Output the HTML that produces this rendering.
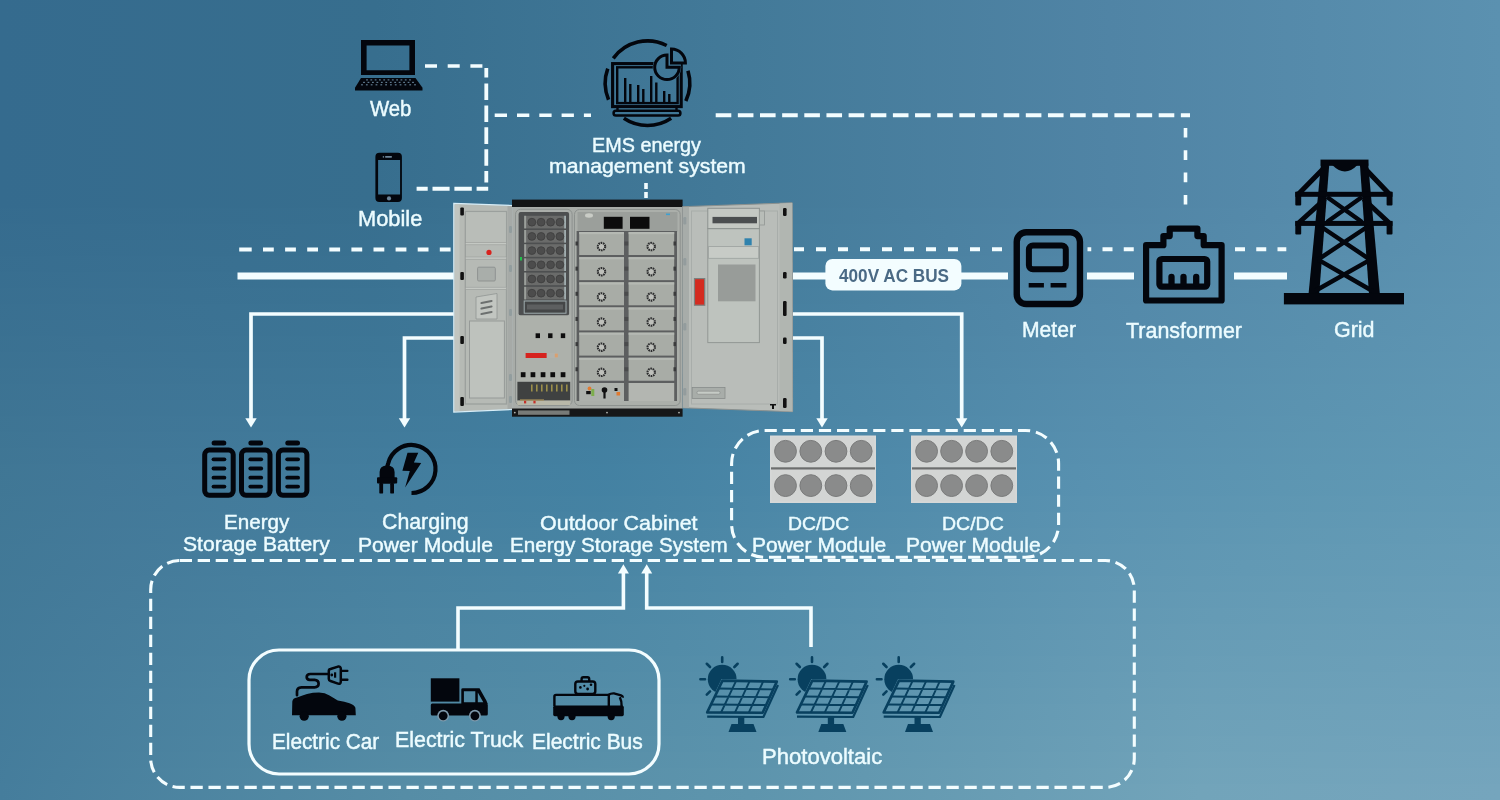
<!DOCTYPE html>
<html><head><meta charset="utf-8"><style>
html,body{margin:0;padding:0;width:1500px;height:800px;overflow:hidden}
body{position:relative;font-family:"Liberation Sans",sans-serif;background:#457d9c}
.bg{position:absolute;left:0;top:0;width:1500px;height:800px}
svg{position:absolute;left:0;top:0}
.t{position:absolute;color:#ecfcff;white-space:nowrap;transform-origin:0 0;-webkit-text-stroke:0.45px #ecfcff}
.bus{position:absolute;left:838.5px;top:266px;font-weight:bold;font-size:19.2px;color:#4a6a85;line-height:19.2px;white-space:nowrap;transform-origin:0 0;transform:scaleX(0.895)}
</style></head>
<body>
<div style="position:absolute;left:0;top:0px;width:1500px;height:16px;background:linear-gradient(to right,rgb(53.0,107.0,142.0) 0%,rgb(53.6,107.8,142.0) 7%,rgb(55.0,110.0,142.0) 25%,rgb(56.0,111.0,142.9) 27%,rgb(62.2,117.2,148.6) 40%,rgb(67.0,122.0,153.0) 50%,rgb(79.5,131.6,164.5) 73%,rgb(80.0,132.0,165.0) 74%,rgb(82.5,135.0,167.5) 80%,rgb(85.5,138.5,170.5) 87%,rgb(91.0,145.0,176.0) 100%)"></div><div style="position:absolute;left:0;top:16px;width:1500px;height:16px;background:linear-gradient(to right,rgb(53.0,107.0,142.0) 0%,rgb(53.6,107.8,142.0) 7%,rgb(55.0,110.0,142.0) 25%,rgb(56.0,111.0,142.9) 27%,rgb(62.2,117.2,148.6) 40%,rgb(67.0,122.0,153.0) 50%,rgb(79.5,131.6,164.5) 73%,rgb(80.0,132.0,165.0) 74%,rgb(82.5,135.0,167.5) 80%,rgb(85.5,138.5,170.5) 87%,rgb(91.0,145.0,176.0) 100%)"></div><div style="position:absolute;left:0;top:32px;width:1500px;height:16px;background:linear-gradient(to right,rgb(53.0,107.0,142.0) 0%,rgb(53.6,107.8,142.0) 7%,rgb(55.0,110.0,142.0) 25%,rgb(56.0,111.0,142.9) 27%,rgb(62.2,117.2,148.6) 40%,rgb(67.0,122.0,153.0) 50%,rgb(79.5,131.6,164.5) 73%,rgb(80.0,132.0,165.0) 74%,rgb(82.5,135.0,167.5) 80%,rgb(85.5,138.5,170.5) 87%,rgb(91.0,145.0,176.0) 100%)"></div><div style="position:absolute;left:0;top:48px;width:1500px;height:16px;background:linear-gradient(to right,rgb(53.0,107.0,142.0) 0%,rgb(53.6,107.8,142.0) 7%,rgb(55.0,110.0,142.0) 25%,rgb(56.0,111.0,142.9) 27%,rgb(62.2,117.2,148.6) 40%,rgb(67.0,122.0,153.0) 50%,rgb(79.5,131.6,164.5) 73%,rgb(80.0,132.0,165.0) 74%,rgb(82.5,135.0,167.5) 80%,rgb(85.5,138.5,170.5) 87%,rgb(91.0,145.0,176.0) 100%)"></div><div style="position:absolute;left:0;top:64px;width:1500px;height:16px;background:linear-gradient(to right,rgb(53.0,107.0,142.0) 0%,rgb(53.6,107.8,142.0) 7%,rgb(55.0,110.0,142.0) 25%,rgb(56.0,111.0,142.9) 27%,rgb(62.2,117.2,148.6) 40%,rgb(67.0,122.0,153.0) 50%,rgb(79.5,131.6,164.5) 73%,rgb(80.0,132.0,165.0) 74%,rgb(82.5,135.0,167.5) 80%,rgb(85.5,138.5,170.5) 87%,rgb(91.0,145.0,176.0) 100%)"></div><div style="position:absolute;left:0;top:80px;width:1500px;height:16px;background:linear-gradient(to right,rgb(53.0,107.0,142.0) 0%,rgb(53.6,107.8,142.0) 7%,rgb(55.0,110.0,142.0) 25%,rgb(56.0,111.0,142.9) 27%,rgb(62.2,117.2,148.6) 40%,rgb(67.0,122.0,153.0) 50%,rgb(79.5,131.6,164.5) 73%,rgb(80.0,132.0,165.0) 74%,rgb(82.5,135.0,167.5) 80%,rgb(85.5,138.5,170.5) 87%,rgb(91.0,145.0,176.0) 100%)"></div><div style="position:absolute;left:0;top:96px;width:1500px;height:16px;background:linear-gradient(to right,rgb(53.0,107.0,142.0) 0%,rgb(53.6,107.8,142.0) 7%,rgb(55.0,110.0,142.0) 25%,rgb(56.0,111.0,142.9) 27%,rgb(62.2,117.2,148.6) 40%,rgb(67.0,122.0,153.0) 50%,rgb(79.5,131.6,164.5) 73%,rgb(80.0,132.0,165.0) 74%,rgb(82.5,135.0,167.5) 80%,rgb(85.5,138.5,170.5) 87%,rgb(91.0,145.0,176.0) 100%)"></div><div style="position:absolute;left:0;top:112px;width:1500px;height:16px;background:linear-gradient(to right,rgb(53.0,107.0,142.0) 0%,rgb(53.6,107.8,142.0) 7%,rgb(55.0,110.0,142.0) 25%,rgb(56.0,111.0,142.9) 27%,rgb(62.2,117.2,148.6) 40%,rgb(67.0,122.0,153.0) 50%,rgb(79.5,131.6,164.5) 73%,rgb(80.0,132.0,165.0) 74%,rgb(82.5,135.0,167.5) 80%,rgb(85.5,138.5,170.5) 87%,rgb(91.0,145.0,176.0) 100%)"></div><div style="position:absolute;left:0;top:128px;width:1500px;height:16px;background:linear-gradient(to right,rgb(53.0,107.0,142.0) 0%,rgb(53.6,107.8,142.0) 7%,rgb(55.0,110.0,142.0) 25%,rgb(56.0,111.0,142.9) 27%,rgb(62.2,117.2,148.6) 40%,rgb(67.0,122.0,153.0) 50%,rgb(79.5,131.6,164.5) 73%,rgb(80.0,132.0,165.0) 74%,rgb(82.5,135.0,167.5) 80%,rgb(85.5,138.5,170.5) 87%,rgb(91.0,145.0,176.0) 100%)"></div><div style="position:absolute;left:0;top:144px;width:1500px;height:16px;background:linear-gradient(to right,rgb(53.0,107.0,142.0) 0%,rgb(53.6,107.8,142.0) 7%,rgb(55.0,110.0,142.0) 25%,rgb(56.0,111.0,142.9) 27%,rgb(62.2,117.2,148.6) 40%,rgb(67.0,122.0,153.0) 50%,rgb(79.5,131.6,164.5) 73%,rgb(80.0,132.0,165.0) 74%,rgb(82.5,135.0,167.5) 80%,rgb(85.5,138.5,170.5) 87%,rgb(91.0,145.0,176.0) 100%)"></div><div style="position:absolute;left:0;top:160px;width:1500px;height:16px;background:linear-gradient(to right,rgb(53.0,107.0,142.0) 0%,rgb(53.6,107.8,142.0) 7%,rgb(55.0,110.0,142.0) 25%,rgb(56.0,111.0,142.9) 27%,rgb(62.2,117.2,148.6) 40%,rgb(67.0,122.0,153.0) 50%,rgb(79.5,131.6,164.5) 73%,rgb(80.0,132.0,165.0) 74%,rgb(82.5,135.0,167.5) 80%,rgb(85.5,138.5,170.5) 87%,rgb(91.0,145.0,176.0) 100%)"></div><div style="position:absolute;left:0;top:176px;width:1500px;height:16px;background:linear-gradient(to right,rgb(53.0,107.0,142.0) 0%,rgb(53.6,107.8,142.0) 7%,rgb(55.0,110.0,142.0) 25%,rgb(56.0,111.0,142.9) 27%,rgb(62.2,117.2,148.6) 40%,rgb(67.0,122.0,153.0) 50%,rgb(79.5,131.6,164.5) 73%,rgb(80.0,132.0,165.0) 74%,rgb(82.5,135.0,167.5) 80%,rgb(85.5,138.5,170.5) 87%,rgb(91.0,145.0,176.0) 100%)"></div><div style="position:absolute;left:0;top:192px;width:1500px;height:16px;background:linear-gradient(to right,rgb(53.0,107.0,142.0) 0%,rgb(53.6,107.8,142.0) 7%,rgb(55.0,110.0,142.0) 25%,rgb(56.0,111.0,142.9) 27%,rgb(62.2,117.2,148.6) 40%,rgb(67.0,122.0,153.0) 50%,rgb(79.5,131.6,164.5) 73%,rgb(80.0,132.0,165.0) 74%,rgb(82.5,135.0,167.5) 80%,rgb(85.5,138.5,170.5) 87%,rgb(91.0,145.0,176.0) 100%)"></div><div style="position:absolute;left:0;top:208px;width:1500px;height:16px;background:linear-gradient(to right,rgb(53.6,107.7,142.4) 0%,rgb(54.3,108.5,142.6) 7%,rgb(55.7,110.9,142.9) 25%,rgb(56.6,111.8,143.7) 27%,rgb(62.5,117.9,149.4) 40%,rgb(67.4,122.7,153.8) 50%,rgb(79.9,132.3,165.2) 73%,rgb(80.5,132.8,165.6) 74%,rgb(83.0,135.7,168.1) 80%,rgb(85.9,139.2,170.9) 87%,rgb(91.3,145.5,176.3) 100%)"></div><div style="position:absolute;left:0;top:224px;width:1500px;height:16px;background:linear-gradient(to right,rgb(54.3,108.4,142.8) 0%,rgb(55.0,109.2,143.1) 7%,rgb(56.3,111.7,143.8) 25%,rgb(57.2,112.6,144.6) 27%,rgb(62.7,118.5,150.1) 40%,rgb(67.7,123.4,154.5) 50%,rgb(80.4,133.1,165.8) 73%,rgb(81.0,133.5,166.3) 74%,rgb(83.4,136.4,168.6) 80%,rgb(86.4,139.8,171.4) 87%,rgb(91.7,145.9,176.6) 100%)"></div><div style="position:absolute;left:0;top:240px;width:1500px;height:16px;background:linear-gradient(to right,rgb(54.9,109.1,143.2) 0%,rgb(55.7,109.9,143.7) 7%,rgb(57.0,112.6,144.6) 25%,rgb(57.8,113.4,145.5) 27%,rgb(63.0,119.2,150.9) 40%,rgb(68.1,124.0,155.3) 50%,rgb(80.9,133.9,166.5) 73%,rgb(81.4,134.3,166.9) 74%,rgb(83.9,137.1,169.2) 80%,rgb(86.8,140.5,171.8) 87%,rgb(92.0,146.4,176.9) 100%)"></div><div style="position:absolute;left:0;top:256px;width:1500px;height:16px;background:linear-gradient(to right,rgb(55.5,109.7,143.6) 0%,rgb(56.4,110.6,144.3) 7%,rgb(57.6,113.4,145.5) 25%,rgb(58.4,114.3,146.3) 27%,rgb(63.3,119.9,151.7) 40%,rgb(68.5,124.7,156.0) 50%,rgb(81.4,134.6,167.1) 73%,rgb(81.9,135.1,167.5) 74%,rgb(84.4,137.9,169.7) 80%,rgb(87.2,141.1,172.2) 87%,rgb(92.4,146.8,177.1) 100%)"></div><div style="position:absolute;left:0;top:272px;width:1500px;height:16px;background:linear-gradient(to right,rgb(56.1,110.4,144.0) 0%,rgb(57.1,111.3,144.9) 7%,rgb(58.3,114.3,146.4) 25%,rgb(59.0,115.1,147.2) 27%,rgb(63.6,120.6,152.4) 40%,rgb(68.8,125.4,156.8) 50%,rgb(81.9,135.4,167.8) 73%,rgb(82.4,135.8,168.2) 74%,rgb(84.8,138.6,170.2) 80%,rgb(87.6,141.8,172.6) 87%,rgb(92.7,147.3,177.4) 100%)"></div><div style="position:absolute;left:0;top:288px;width:1500px;height:16px;background:linear-gradient(to right,rgb(56.8,111.1,144.4) 0%,rgb(57.8,112.0,145.4) 7%,rgb(59.0,115.1,147.3) 25%,rgb(59.6,115.9,148.1) 27%,rgb(63.8,121.2,153.2) 40%,rgb(69.2,126.1,157.5) 50%,rgb(82.4,136.2,168.4) 73%,rgb(82.9,136.6,168.8) 74%,rgb(85.3,139.3,170.8) 80%,rgb(88.1,142.4,173.1) 87%,rgb(93.1,147.7,177.7) 100%)"></div><div style="position:absolute;left:0;top:304px;width:1500px;height:16px;background:linear-gradient(to right,rgb(57.4,111.8,144.8) 0%,rgb(58.5,112.7,146.0) 7%,rgb(59.6,116.0,148.2) 25%,rgb(60.2,116.8,149.0) 27%,rgb(64.1,121.9,154.0) 40%,rgb(69.5,126.7,158.3) 50%,rgb(82.9,136.9,169.1) 73%,rgb(83.3,137.3,169.5) 74%,rgb(85.7,140.0,171.3) 80%,rgb(88.5,143.1,173.5) 87%,rgb(93.4,148.2,178.0) 100%)"></div><div style="position:absolute;left:0;top:320px;width:1500px;height:16px;background:linear-gradient(to right,rgb(58.0,112.5,145.2) 0%,rgb(59.2,113.4,146.6) 7%,rgb(60.3,116.8,149.1) 25%,rgb(60.8,117.6,149.8) 27%,rgb(64.4,122.6,154.7) 40%,rgb(69.9,127.4,159.1) 50%,rgb(83.4,137.7,169.8) 73%,rgb(83.8,138.1,170.1) 74%,rgb(86.2,140.7,171.9) 80%,rgb(88.9,143.8,173.9) 87%,rgb(93.7,148.7,178.3) 100%)"></div><div style="position:absolute;left:0;top:336px;width:1500px;height:16px;background:linear-gradient(to right,rgb(58.7,113.2,145.6) 0%,rgb(60.0,114.1,147.1) 7%,rgb(60.9,117.7,149.9) 25%,rgb(61.4,118.4,150.7) 27%,rgb(64.7,123.3,155.5) 40%,rgb(70.3,128.1,159.8) 50%,rgb(83.9,138.5,170.4) 73%,rgb(84.3,138.9,170.7) 74%,rgb(86.6,141.4,172.4) 80%,rgb(89.4,144.4,174.4) 87%,rgb(94.1,149.1,178.6) 100%)"></div><div style="position:absolute;left:0;top:352px;width:1500px;height:16px;background:linear-gradient(to right,rgb(59.3,113.9,146.0) 0%,rgb(60.7,114.8,147.7) 7%,rgb(61.6,118.5,150.8) 25%,rgb(62.0,119.2,151.6) 27%,rgb(64.9,123.9,156.3) 40%,rgb(70.6,128.8,160.6) 50%,rgb(84.3,139.2,171.1) 73%,rgb(84.8,139.6,171.4) 74%,rgb(87.1,142.1,172.9) 80%,rgb(89.8,145.1,174.8) 87%,rgb(94.4,149.6,178.9) 100%)"></div><div style="position:absolute;left:0;top:368px;width:1500px;height:16px;background:linear-gradient(to right,rgb(59.9,114.5,146.4) 0%,rgb(61.4,115.5,148.3) 7%,rgb(62.3,119.4,151.7) 25%,rgb(62.7,120.1,152.4) 27%,rgb(65.2,124.6,157.0) 40%,rgb(71.0,129.4,161.3) 50%,rgb(84.8,140.0,171.7) 73%,rgb(85.3,140.4,172.0) 74%,rgb(87.5,142.9,173.5) 80%,rgb(90.2,145.7,175.2) 87%,rgb(94.8,150.0,179.1) 100%)"></div><div style="position:absolute;left:0;top:384px;width:1500px;height:16px;background:linear-gradient(to right,rgb(60.5,115.2,146.8) 0%,rgb(62.1,116.2,148.9) 7%,rgb(62.9,120.2,152.6) 25%,rgb(63.3,120.9,153.3) 27%,rgb(65.5,125.3,157.8) 40%,rgb(71.4,130.1,162.1) 50%,rgb(85.3,140.8,172.4) 73%,rgb(85.7,141.2,172.6) 74%,rgb(88.0,143.6,174.0) 80%,rgb(90.6,146.4,175.6) 87%,rgb(95.1,150.5,179.4) 100%)"></div><div style="position:absolute;left:0;top:400px;width:1500px;height:16px;background:linear-gradient(to right,rgb(61.2,115.9,147.2) 0%,rgb(62.8,116.9,149.4) 7%,rgb(63.6,121.1,153.5) 25%,rgb(63.9,121.7,154.2) 27%,rgb(65.8,126.0,158.6) 40%,rgb(71.7,130.8,162.8) 50%,rgb(85.8,141.6,173.0) 73%,rgb(86.2,141.9,173.3) 74%,rgb(88.5,144.3,174.6) 80%,rgb(91.1,147.0,176.1) 87%,rgb(95.5,150.9,179.7) 100%)"></div><div style="position:absolute;left:0;top:416px;width:1500px;height:16px;background:linear-gradient(to right,rgb(61.8,116.6,147.6) 0%,rgb(63.5,117.6,150.0) 7%,rgb(64.2,121.9,154.4) 25%,rgb(64.5,122.6,155.0) 27%,rgb(66.0,126.6,159.3) 40%,rgb(72.1,131.5,163.6) 50%,rgb(86.3,142.3,173.7) 73%,rgb(86.7,142.7,173.9) 74%,rgb(88.9,145.0,175.1) 80%,rgb(91.5,147.7,176.5) 87%,rgb(95.8,151.4,180.0) 100%)"></div><div style="position:absolute;left:0;top:432px;width:1500px;height:16px;background:linear-gradient(to right,rgb(62.4,117.3,148.0) 0%,rgb(64.2,118.3,150.6) 7%,rgb(64.9,122.8,155.2) 25%,rgb(65.1,123.4,155.9) 27%,rgb(66.3,127.3,160.1) 40%,rgb(72.5,132.2,164.4) 50%,rgb(86.8,143.1,174.4) 73%,rgb(87.2,143.4,174.6) 74%,rgb(89.4,145.7,175.6) 80%,rgb(91.9,148.4,176.9) 87%,rgb(96.1,151.9,180.3) 100%)"></div><div style="position:absolute;left:0;top:448px;width:1500px;height:16px;background:linear-gradient(to right,rgb(63.1,118.0,148.4) 0%,rgb(64.9,119.0,151.1) 7%,rgb(65.6,123.6,156.1) 25%,rgb(65.7,124.2,156.8) 27%,rgb(66.6,128.0,160.9) 40%,rgb(72.8,132.8,165.1) 50%,rgb(87.3,143.8,175.0) 73%,rgb(87.6,144.2,175.2) 74%,rgb(89.8,146.4,176.2) 80%,rgb(92.4,149.0,177.4) 87%,rgb(96.5,152.3,180.6) 100%)"></div><div style="position:absolute;left:0;top:464px;width:1500px;height:16px;background:linear-gradient(to right,rgb(63.7,118.7,148.8) 0%,rgb(65.6,119.7,151.7) 7%,rgb(66.2,124.5,157.0) 25%,rgb(66.3,125.0,157.6) 27%,rgb(66.9,128.7,161.6) 40%,rgb(73.2,133.5,165.9) 50%,rgb(87.8,144.6,175.7) 73%,rgb(88.1,145.0,175.8) 74%,rgb(90.3,147.1,176.7) 80%,rgb(92.8,149.7,177.8) 87%,rgb(96.8,152.8,180.9) 100%)"></div><div style="position:absolute;left:0;top:480px;width:1500px;height:16px;background:linear-gradient(to right,rgb(64.1,119.2,149.2) 0%,rgb(66.2,120.2,152.2) 7%,rgb(67.0,125.3,157.7) 25%,rgb(67.1,125.9,158.3) 27%,rgb(67.6,129.4,162.2) 40%,rgb(73.9,134.2,166.4) 50%,rgb(88.5,145.4,176.2) 73%,rgb(88.9,145.8,176.3) 74%,rgb(91.1,147.9,177.2) 80%,rgb(93.6,150.4,178.2) 87%,rgb(97.5,153.3,181.2) 100%)"></div><div style="position:absolute;left:0;top:496px;width:1500px;height:16px;background:linear-gradient(to right,rgb(64.4,119.5,149.5) 0%,rgb(66.6,120.7,152.5) 7%,rgb(67.9,126.1,158.1) 25%,rgb(68.1,126.7,158.7) 27%,rgb(68.8,130.3,162.6) 40%,rgb(75.0,135.0,166.8) 50%,rgb(89.6,146.2,176.5) 73%,rgb(90.0,146.6,176.7) 74%,rgb(92.3,148.8,177.7) 80%,rgb(94.7,151.1,178.7) 87%,rgb(98.5,153.9,181.6) 100%)"></div><div style="position:absolute;left:0;top:512px;width:1500px;height:16px;background:linear-gradient(to right,rgb(64.6,119.8,149.9) 0%,rgb(66.9,121.2,152.8) 7%,rgb(68.9,126.8,158.5) 25%,rgb(69.1,127.4,159.1) 27%,rgb(70.0,131.1,163.0) 40%,rgb(76.0,135.8,167.1) 50%,rgb(90.7,147.0,176.9) 73%,rgb(91.1,147.4,177.1) 74%,rgb(93.5,149.6,178.2) 80%,rgb(95.8,151.8,179.2) 87%,rgb(99.6,154.5,182.0) 100%)"></div><div style="position:absolute;left:0;top:528px;width:1500px;height:16px;background:linear-gradient(to right,rgb(64.9,120.1,150.3) 0%,rgb(67.3,121.6,153.2) 7%,rgb(69.8,127.6,158.9) 25%,rgb(70.1,128.2,159.5) 27%,rgb(71.2,132.0,163.4) 40%,rgb(77.1,136.6,167.5) 50%,rgb(91.8,147.8,177.3) 73%,rgb(92.2,148.2,177.4) 74%,rgb(94.7,150.5,178.6) 80%,rgb(97.0,152.6,179.6) 87%,rgb(100.6,155.2,182.4) 100%)"></div><div style="position:absolute;left:0;top:544px;width:1500px;height:16px;background:linear-gradient(to right,rgb(65.2,120.4,150.6) 0%,rgb(67.7,122.1,153.5) 7%,rgb(70.7,128.3,159.3) 25%,rgb(71.1,129.0,159.9) 27%,rgb(72.4,132.8,163.8) 40%,rgb(78.1,137.3,167.8) 50%,rgb(92.9,148.6,177.6) 73%,rgb(93.4,149.0,177.8) 74%,rgb(95.9,151.3,179.1) 80%,rgb(98.1,153.3,180.1) 87%,rgb(101.6,155.8,182.8) 100%)"></div><div style="position:absolute;left:0;top:560px;width:1500px;height:16px;background:linear-gradient(to right,rgb(65.4,120.7,151.0) 0%,rgb(68.1,122.6,153.9) 7%,rgb(71.7,129.1,159.7) 25%,rgb(72.1,129.8,160.3) 27%,rgb(73.6,133.7,164.2) 40%,rgb(79.2,138.1,168.1) 50%,rgb(94.0,149.4,178.0) 73%,rgb(94.5,149.8,178.2) 74%,rgb(97.1,152.2,179.5) 80%,rgb(99.2,154.0,180.6) 87%,rgb(102.6,156.4,183.3) 100%)"></div><div style="position:absolute;left:0;top:576px;width:1500px;height:16px;background:linear-gradient(to right,rgb(65.7,121.0,151.3) 0%,rgb(68.5,123.0,154.2) 7%,rgb(72.6,129.9,160.1) 25%,rgb(73.1,130.6,160.7) 27%,rgb(74.8,134.5,164.7) 40%,rgb(80.2,138.9,168.5) 50%,rgb(95.1,150.2,178.3) 73%,rgb(95.6,150.6,178.6) 74%,rgb(98.3,153.0,180.0) 80%,rgb(100.4,154.8,181.0) 87%,rgb(103.7,157.0,183.7) 100%)"></div><div style="position:absolute;left:0;top:592px;width:1500px;height:16px;background:linear-gradient(to right,rgb(65.9,121.3,151.7) 0%,rgb(68.8,123.5,154.5) 7%,rgb(73.5,130.6,160.5) 25%,rgb(74.1,131.4,161.1) 27%,rgb(76.0,135.4,165.1) 40%,rgb(81.3,139.7,168.8) 50%,rgb(96.2,151.0,178.7) 73%,rgb(96.7,151.4,178.9) 74%,rgb(99.5,153.8,180.5) 80%,rgb(101.5,155.5,181.5) 87%,rgb(104.7,157.6,184.1) 100%)"></div><div style="position:absolute;left:0;top:608px;width:1500px;height:16px;background:linear-gradient(to right,rgb(66.2,121.6,152.1) 0%,rgb(69.2,124.0,154.9) 7%,rgb(74.5,131.4,160.9) 25%,rgb(75.1,132.2,161.5) 27%,rgb(77.3,136.2,165.5) 40%,rgb(82.4,140.5,169.2) 50%,rgb(97.3,151.8,179.0) 73%,rgb(97.8,152.2,179.3) 74%,rgb(100.7,154.7,180.9) 80%,rgb(102.6,156.3,181.9) 87%,rgb(105.7,158.2,184.5) 100%)"></div><div style="position:absolute;left:0;top:624px;width:1500px;height:16px;background:linear-gradient(to right,rgb(66.4,121.9,152.4) 0%,rgb(69.6,124.5,155.2) 7%,rgb(75.4,132.2,161.3) 25%,rgb(76.1,133.0,161.9) 27%,rgb(78.5,137.0,165.9) 40%,rgb(83.4,141.2,169.5) 50%,rgb(98.4,152.6,179.4) 73%,rgb(98.9,153.0,179.7) 74%,rgb(101.9,155.5,181.4) 80%,rgb(103.7,157.0,182.4) 87%,rgb(106.7,158.8,184.9) 100%)"></div><div style="position:absolute;left:0;top:640px;width:1500px;height:16px;background:linear-gradient(to right,rgb(66.7,122.2,152.8) 0%,rgb(70.0,124.9,155.5) 7%,rgb(76.3,132.9,161.7) 25%,rgb(77.0,133.8,162.3) 27%,rgb(79.7,137.9,166.3) 40%,rgb(84.5,142.0,169.9) 50%,rgb(99.5,153.3,179.8) 73%,rgb(100.0,153.8,180.1) 74%,rgb(103.2,156.4,181.8) 80%,rgb(104.9,157.7,182.9) 87%,rgb(107.8,159.5,185.3) 100%)"></div><div style="position:absolute;left:0;top:656px;width:1500px;height:16px;background:linear-gradient(to right,rgb(66.9,122.5,153.1) 0%,rgb(70.4,125.4,155.9) 7%,rgb(77.3,133.7,162.1) 25%,rgb(78.0,134.6,162.7) 27%,rgb(80.9,138.7,166.7) 40%,rgb(85.5,142.8,170.2) 50%,rgb(100.6,154.1,180.1) 73%,rgb(101.1,154.6,180.4) 74%,rgb(104.4,157.2,182.3) 80%,rgb(106.0,158.5,183.3) 87%,rgb(108.8,160.1,185.7) 100%)"></div><div style="position:absolute;left:0;top:672px;width:1500px;height:16px;background:linear-gradient(to right,rgb(67.2,122.8,153.5) 0%,rgb(70.7,125.9,156.2) 7%,rgb(78.2,134.5,162.5) 25%,rgb(79.0,135.4,163.1) 27%,rgb(82.1,139.6,167.1) 40%,rgb(86.6,143.6,170.6) 50%,rgb(101.7,154.9,180.5) 73%,rgb(102.2,155.4,180.8) 74%,rgb(105.6,158.1,182.8) 80%,rgb(107.1,159.2,183.8) 87%,rgb(109.8,160.7,186.1) 100%)"></div><div style="position:absolute;left:0;top:688px;width:1500px;height:16px;background:linear-gradient(to right,rgb(67.5,123.2,153.8) 0%,rgb(71.1,126.3,156.6) 7%,rgb(79.1,135.2,162.9) 25%,rgb(80.0,136.2,163.6) 27%,rgb(83.3,140.4,167.5) 40%,rgb(87.7,144.3,170.9) 50%,rgb(102.8,155.7,180.8) 73%,rgb(103.3,156.2,181.2) 74%,rgb(106.8,158.9,183.2) 80%,rgb(108.3,159.9,184.3) 87%,rgb(110.8,161.3,186.5) 100%)"></div><div style="position:absolute;left:0;top:704px;width:1500px;height:16px;background:linear-gradient(to right,rgb(67.7,123.5,154.2) 0%,rgb(71.5,126.8,156.9) 7%,rgb(80.1,136.0,163.3) 25%,rgb(81.0,137.0,164.0) 27%,rgb(84.5,141.3,167.9) 40%,rgb(88.7,145.1,171.3) 50%,rgb(103.9,156.5,181.2) 73%,rgb(104.5,157.0,181.5) 74%,rgb(108.0,159.8,183.7) 80%,rgb(109.4,160.7,184.7) 87%,rgb(111.9,161.9,186.9) 100%)"></div><div style="position:absolute;left:0;top:720px;width:1500px;height:16px;background:linear-gradient(to right,rgb(68.0,123.8,154.6) 0%,rgb(71.9,127.3,157.2) 7%,rgb(81.0,136.8,163.7) 25%,rgb(82.0,137.8,164.4) 27%,rgb(85.7,142.1,168.3) 40%,rgb(89.8,145.9,171.6) 50%,rgb(105.0,157.3,181.5) 73%,rgb(105.6,157.8,181.9) 74%,rgb(109.2,160.6,184.2) 80%,rgb(110.5,161.4,185.2) 87%,rgb(112.9,162.5,187.4) 100%)"></div><div style="position:absolute;left:0;top:736px;width:1500px;height:16px;background:linear-gradient(to right,rgb(68.2,124.1,154.9) 0%,rgb(72.3,127.7,157.6) 7%,rgb(81.9,137.5,164.1) 25%,rgb(83.0,138.6,164.8) 27%,rgb(86.9,143.0,168.7) 40%,rgb(90.8,146.7,172.0) 50%,rgb(106.1,158.1,181.9) 73%,rgb(106.7,158.6,182.3) 74%,rgb(110.4,161.5,184.6) 80%,rgb(111.7,162.1,185.7) 87%,rgb(113.9,163.2,187.8) 100%)"></div><div style="position:absolute;left:0;top:752px;width:1500px;height:16px;background:linear-gradient(to right,rgb(68.5,124.4,155.3) 0%,rgb(72.6,128.2,157.9) 7%,rgb(82.9,138.3,164.5) 25%,rgb(84.0,139.4,165.2) 27%,rgb(88.1,143.8,169.1) 40%,rgb(91.9,147.4,172.3) 50%,rgb(107.1,158.9,182.3) 73%,rgb(107.8,159.4,182.7) 74%,rgb(111.6,162.3,185.1) 80%,rgb(112.8,162.9,186.1) 87%,rgb(114.9,163.8,188.2) 100%)"></div><div style="position:absolute;left:0;top:768px;width:1500px;height:16px;background:linear-gradient(to right,rgb(68.7,124.7,155.6) 0%,rgb(73.0,128.7,158.3) 7%,rgb(83.8,139.1,164.9) 25%,rgb(85.0,140.2,165.6) 27%,rgb(89.3,144.7,169.5) 40%,rgb(92.9,148.2,172.7) 50%,rgb(108.2,159.7,182.6) 73%,rgb(108.9,160.2,183.0) 74%,rgb(112.8,163.2,185.5) 80%,rgb(113.9,163.6,186.6) 87%,rgb(116.0,164.4,188.6) 100%)"></div><div style="position:absolute;left:0;top:784px;width:1500px;height:16px;background:linear-gradient(to right,rgb(69.0,125.0,156.0) 0%,rgb(73.4,129.1,158.6) 7%,rgb(84.7,139.8,165.3) 25%,rgb(86.0,141.0,166.0) 27%,rgb(90.5,145.5,170.0) 40%,rgb(94.0,149.0,173.0) 50%,rgb(109.3,160.5,183.0) 73%,rgb(110.0,161.0,183.4) 74%,rgb(114.0,164.0,186.0) 80%,rgb(115.1,164.3,187.1) 87%,rgb(117.0,165.0,189.0) 100%)"></div>
<svg width="1500" height="800" viewBox="0 0 1500 800">

<g fill="none" stroke="#f3fdff" stroke-linecap="butt">
 <path d="M425,66 H487" stroke-width="3.6" stroke-dasharray="12 10.7"/>
 <path d="M486.3,67.9 V182.5" stroke-width="3.8" stroke-dasharray="9.6 6 16.6 5.3 16.6 5.3 16.6 5.3 16.6 5.3 16.6 5.3"/>
 <path d="M416.6,188.7 H488.2" stroke-width="3.9" stroke-dasharray="11.1 4.8 17.1 4.8 17.4 4.8 20"/>
 <path d="M494.7,115.3 H591" stroke-width="3.6" stroke-dasharray="12.3 10"/>
 <path d="M715.7,115.3 H1190" stroke-width="4" stroke-dasharray="15.6 6.55"/>
 <path d="M1185.5,128 V206" stroke-width="3.6" stroke-dasharray="9.6 12.7"/>
 <path d="M646,183 V199" stroke-width="3.6" stroke-dasharray="6 3"/>
 <path d="M239.2,249.5 H456" stroke-width="4" stroke-dasharray="12.5 11.3 10.8 11.3 10.8 11.3 10.8 11.3 10.8 11.3 10.8 11.3 10.8 11.3 10.8 11.3 10.8 11.3 10.8 11.3 10.8 11.3"/>
 <path d="M794,249.2 H1010" stroke-width="4" stroke-dasharray="10 12"/>
 <path d="M1087.5,249.2 H1144" stroke-width="4" stroke-dasharray="3.75 11.25 10 11.25 10 20"/>
 <path d="M1235,249.2 H1286.3" stroke-width="4" stroke-dasharray="10 11.25"/>
 <path d="M237.5,276 H456" stroke-width="7"/>
 <path d="M793,276 H1008" stroke-width="7"/>
 <path d="M1087,276 H1134" stroke-width="7"/>
 <path d="M1234,276 H1287" stroke-width="7"/>
 <path d="M456,314 H251 V421" stroke-width="3.7"/>
 <path d="M456,338 H404.5 V421" stroke-width="3.7"/>
 <path d="M792,338 H822 V421" stroke-width="3.7"/>
 <path d="M792,314 H961.7 V421" stroke-width="3.7"/>
 <path d="M458,650 V608 H623.4 V572" stroke-width="3.6"/>
 <path d="M811,647 V608 H646.7 V572" stroke-width="3.6"/>
 <rect x="731.6" y="430.5" width="327" height="126.8" rx="33" stroke-width="3.1" stroke-dasharray="12.2 5.9"/>
 <rect x="150.7" y="560.5" width="983.6" height="226.9" rx="29" stroke-width="3.1" stroke-dasharray="12.3 5.7"/>
 <rect x="249" y="650" width="410" height="124" rx="30" stroke-width="3.2"/>
</g>
<g fill="#f3fdff">
 <path d="M245.3,418.3 L256.7,418.3 L251,427.6 Z"/>
 <path d="M398.8,418.3 L410.2,418.3 L404.5,427.6 Z"/>
 <path d="M816.3,418.3 L827.7,418.3 L822,427.6 Z"/>
 <path d="M956.0,418.3 L967.4,418.3 L961.7,427.6 Z"/>
 <path d="M617.9,573.5 L628.9,573.5 L623.4,564.3 Z"/>
 <path d="M641.2,573.5 L652.2,573.5 L646.7,564.3 Z"/>
 <rect x="825.4" y="259" width="136" height="31.4" rx="7"/>
</g>

<path fill="#03060d" fill-rule="evenodd" d="M361,40 H415 V75.1 H361 Z M366.6,45.5 V70.3 H409.4 V45.5 Z"/>
<path fill="#03060d" d="M361,78 H415.5 L422.5,87.8 V90.5 H355 V87.8 Z"/>
<g fill="#5f7a8f"><rect x="366.1" y="79.3" width="1.8" height="1.2"/><rect x="370.4" y="79.3" width="1.8" height="1.2"/><rect x="374.7" y="79.3" width="1.8" height="1.2"/><rect x="379" y="79.3" width="1.8" height="1.2"/><rect x="383.3" y="79.3" width="1.8" height="1.2"/><rect x="387.6" y="79.3" width="1.8" height="1.2"/><rect x="391.9" y="79.3" width="1.8" height="1.2"/><rect x="396.2" y="79.3" width="1.8" height="1.2"/><rect x="400.5" y="79.3" width="1.8" height="1.2"/><rect x="404.8" y="79.3" width="1.8" height="1.2"/><rect x="409.1" y="79.3" width="1.8" height="1.2"/><rect x="363.1" y="81.8" width="1.8" height="1.2"/><rect x="367.55" y="81.8" width="1.8" height="1.2"/><rect x="372.01" y="81.8" width="1.8" height="1.2"/><rect x="376.46" y="81.8" width="1.8" height="1.2"/><rect x="380.92" y="81.8" width="1.8" height="1.2"/><rect x="385.37" y="81.8" width="1.8" height="1.2"/><rect x="389.83" y="81.8" width="1.8" height="1.2"/><rect x="394.28" y="81.8" width="1.8" height="1.2"/><rect x="398.74" y="81.8" width="1.8" height="1.2"/><rect x="403.19" y="81.8" width="1.8" height="1.2"/><rect x="407.65" y="81.8" width="1.8" height="1.2"/><rect x="412.1" y="81.8" width="1.8" height="1.2"/><rect x="361.1" y="84.2" width="1.8" height="1.2"/><rect x="365.92" y="84.2" width="1.8" height="1.2"/><rect x="370.74" y="84.2" width="1.8" height="1.2"/><rect x="375.55" y="84.2" width="1.8" height="1.2"/><rect x="380.37" y="84.2" width="1.8" height="1.2"/><rect x="385.19" y="84.2" width="1.8" height="1.2"/><rect x="390.01" y="84.2" width="1.8" height="1.2"/><rect x="394.83" y="84.2" width="1.8" height="1.2"/><rect x="399.65" y="84.2" width="1.8" height="1.2"/><rect x="404.46" y="84.2" width="1.8" height="1.2"/><rect x="409.28" y="84.2" width="1.8" height="1.2"/><rect x="414.1" y="84.2" width="1.8" height="1.2"/></g>
<path fill="#03060d" fill-rule="evenodd" d="M379.4,152.7 H397.9 A4,4 0 0 1 401.9,156.7 V198 A4,4 0 0 1 397.9,202 H379.4 A4,4 0 0 1 375.4,198 V156.7 A4,4 0 0 1 379.4,152.7 Z M378.1,160 V194.4 H400.1 V160 Z"/>
<g fill="#6c8498"><rect x="385" y="156" width="7" height="1.7" rx=".8"/><circle cx="383.4" cy="156.9" r=".8"/><circle cx="389" cy="198.4" r="2.1"/></g>
<path fill="none" stroke="#03060d" stroke-width="3.6" d="M613.28,58.34 A42.3,42.3 0 0 1 666.7,45.51 M687.95,70.83 A42.3,42.3 0 0 1 685.84,101.08 M671.15,118.27 A42.3,42.3 0 0 1 623.85,118.27 M608.56,99.73 A42.3,42.3 0 0 1 607.75,68.73"/>
<mask id="pieMask" maskUnits="userSpaceOnUse" x="0" y="0" width="1500" height="800"><rect x="0" y="0" width="1500" height="800" fill="#fff"/><circle cx="667" cy="67.3" r="14.2" fill="#000"/><path d="M671.5,63 V47.2 A15.8,15.8 0 0 1 687.3,63 Z" fill="#000"/></mask>
<g stroke="#03060d" mask="url(#pieMask)"><rect x="612.6" y="63.6" width="68.6" height="43" fill="none" stroke-width="3.1"/><rect x="617.2" y="67.3" width="60.4" height="35.8" fill="none" stroke-width="2.4"/><line x1="625.2" y1="102.5" x2="625.2" y2="78" stroke-width="2.4"/><line x1="630.3" y1="102.5" x2="630.3" y2="84" stroke-width="2.4"/><line x1="638.2" y1="102.5" x2="638.2" y2="85" stroke-width="2.4"/><line x1="643.3" y1="102.5" x2="643.3" y2="89" stroke-width="2.4"/><line x1="651.2" y1="102.5" x2="651.2" y2="76" stroke-width="2.4"/><line x1="656.3" y1="102.5" x2="656.3" y2="82.5" stroke-width="2.4"/><line x1="664.2" y1="102.5" x2="664.2" y2="91" stroke-width="2.4"/><line x1="669.3" y1="102.5" x2="669.3" y2="94" stroke-width="2.4"/><rect x="613.6" y="110.8" width="66.8" height="4.8" rx="2.3" fill="none" stroke-width="2.5"/><line x1="617.5" y1="108" x2="617.5" y2="111" stroke-width="2.4"/><line x1="676.5" y1="108" x2="676.5" y2="111" stroke-width="2.4"/></g>
<path fill="none" stroke="#03060d" stroke-width="3" stroke-linejoin="miter" d="M667,55 A12.3,12.3 0 1 0 679.3,67.3 L667,67.3 Z M671.5,63 V49.1 A13.9,13.9 0 0 1 685.4,63 Z"/>
<g fill="none" stroke="#03060d"><rect x="1016.75" y="232.25" width="63.2" height="71.7" rx="9.5" stroke-width="6.4"/><rect x="1028.9" y="245.5" width="36.9" height="23.8" rx="4" stroke-width="6"/><path d="M1028.7,285.2 H1043.9 M1050.6,285.2 H1066.4" stroke-width="4.5"/></g>
<g fill="none" stroke="#03060d" stroke-linejoin="round"><path stroke-width="6.2" d="M1146.1,300.5 V245.2 H1163.4 V236.1 H1169.7 V228.6 H1197.4 V236.1 H1203.7 V245.2 H1221.6 V300.5 Z"/><rect x="1159.4" y="259" width="47.8" height="27.7" rx="2.5" stroke-width="6.2"/></g>
<g fill="#03060d"><rect x="1168.35" y="273.7" width="6.3" height="13" rx="3.15"/><rect x="1180.35" y="273.7" width="6.3" height="13" rx="3.15"/><rect x="1193.05" y="273.7" width="6.3" height="13" rx="3.15"/></g>
<g fill="#03060d"><rect x="1283.9" y="293" width="120.1" height="11.4"/><rect x="1320.5" y="159.6" width="48" height="6.2"/><path d="M1332.3,165 Q1344.9,178 1357.5,165 Z"/><path d="M1321.4,160 H1329.6 L1319.2,293.5 H1308.6 Z"/><path d="M1359.6,160 H1367.8 L1379.8,293.5 H1369 Z"/><rect x="1295.3" y="191.8" width="97.2" height="5"/><rect x="1295.3" y="191.8" width="5.9" height="13.6" rx="1"/><rect x="1386.6" y="191.8" width="5.9" height="13.6" rx="1"/><rect x="1295.3" y="220.9" width="97.2" height="5"/><rect x="1295.3" y="220.9" width="5.9" height="13.6" rx="1"/><rect x="1386.6" y="220.9" width="5.9" height="13.6" rx="1"/></g>
<g stroke="#03060d" stroke-width="5" fill="none"><path d="M1298.5,194 L1323,169 M1389.3,194 L1365.5,169 M1298.5,223 L1325,199 M1389.3,223 L1363.5,199"/></g>
<g stroke="#03060d" stroke-width="4.4" fill="none"><path d="M1327,197 L1362,222 M1362,197 L1327,222 M1320,226 L1370,259.6 M1368.6,226 L1318,259.6 M1318,259.6 L1372.5,291 M1370.5,259.6 L1315,291"/></g>
<rect x="204.7" y="450.1" width="28.5" height="45.2" rx="4.5" fill="none" stroke="#03060d" stroke-width="5"/>
<g fill="#03060d"><rect x="211.6" y="440.4" width="14.7" height="5.2" rx="2.5"/><rect x="211.6" y="457.4" width="14.7" height="3.8" rx="1.9"/><rect x="211.6" y="466.6" width="14.7" height="3.8" rx="1.9"/><rect x="211.6" y="475.8" width="14.7" height="3.8" rx="1.9"/><rect x="211.6" y="484.7" width="14.7" height="3.8" rx="1.9"/></g>
<rect x="241.5" y="450.1" width="28.5" height="45.2" rx="4.5" fill="none" stroke="#03060d" stroke-width="5"/>
<g fill="#03060d"><rect x="248.4" y="440.4" width="14.7" height="5.2" rx="2.5"/><rect x="248.4" y="457.4" width="14.7" height="3.8" rx="1.9"/><rect x="248.4" y="466.6" width="14.7" height="3.8" rx="1.9"/><rect x="248.4" y="475.8" width="14.7" height="3.8" rx="1.9"/><rect x="248.4" y="484.7" width="14.7" height="3.8" rx="1.9"/></g>
<rect x="278.4" y="450.1" width="28.5" height="45.2" rx="4.5" fill="none" stroke="#03060d" stroke-width="5"/>
<g fill="#03060d"><rect x="285.3" y="440.4" width="14.7" height="5.2" rx="2.5"/><rect x="285.3" y="457.4" width="14.7" height="3.8" rx="1.9"/><rect x="285.3" y="466.6" width="14.7" height="3.8" rx="1.9"/><rect x="285.3" y="475.8" width="14.7" height="3.8" rx="1.9"/><rect x="285.3" y="484.7" width="14.7" height="3.8" rx="1.9"/></g>
<path fill="none" stroke="#03060d" stroke-width="4.2" d="M387,467.5 L388.2,463.3 A24,24 0 1 1 411.5,493"/>
<g fill="#03060d"><path d="M379.6,483.5 V472 Q379.6,465.4 387,465.4 Q394.6,465.4 394.6,472 V483.5 Z"/><rect x="377" y="477.3" width="20.2" height="6.2" rx="1"/><rect x="379.3" y="483" width="3.8" height="10.6" rx="1.2"/><rect x="390.2" y="483" width="3.8" height="10.6" rx="1.2"/><path d="M407.5,452.7 L418.3,452.7 L413.9,462.6 L421.2,463 L405.1,487.4 L409.8,471.1 L402.4,470.7 Z"/></g>
<path fill="#03060d" d="M292,715.2 L292.3,701.5 Q292.8,698.2 297,697.6 Q303,695.2 307,694 Q313,692.6 319,692.6 Q325,692.8 329.5,695.4 L337.8,700.6 Q345,701.9 349.5,703.2 Q354.5,704.8 355.4,707.8 L355.8,715.2 Z"/>
<g fill="#03060d"><circle cx="304.2" cy="716.2" r="4.6"/><circle cx="341.9" cy="716.2" r="4.6"/></g>
<path fill="none" stroke="#03060d" stroke-width="2.7" stroke-linecap="round" d="M297,695.2 V691.6 Q297,687.6 301.5,687.4 H314.5 Q318.6,687.2 318.6,683.8 Q318.6,680.2 314.5,679.9 H309.8 Q306.7,679.7 306.7,677 Q306.7,674.1 310.3,674 H327.5"/>
<path fill="none" stroke="#03060d" stroke-width="2.5" stroke-linejoin="round" d="M328.8,670.8 Q328.8,669.3 330.5,669 L338,666.6 Q340.8,666.2 340.8,668.8 V681.5 Q340.8,684.2 338,683.6 L330.5,681 Q328.8,680.6 328.8,679 Z"/>
<g fill="#03060d"><rect x="340.5" y="669.7" width="8" height="2.4" rx="1"/><rect x="340.5" y="678.6" width="8" height="2.4" rx="1"/><circle cx="331.8" cy="675" r="1.4"/><rect x="334" y="672.3" width="2.2" height="5.4"/></g>
<g fill="#03060d"><rect x="430.8" y="678.3" width="28.6" height="23.3"/><rect x="430.8" y="703.6" width="57" height="11.8" rx="1.5"/><path fill-rule="evenodd" d="M461.3,704 V689.6 Q461.3,688.2 462.8,688.2 H479.5 L486.4,700.4 L487.8,704 Z M463.9,691.3 H475.3 V702.2 H463.9 Z M477.8,692.4 L483.3,702.2 H477.8 Z"/></g>
<g fill="#7e9aac"><circle cx="443.2" cy="715.6" r="5.9"/><circle cx="474.9" cy="715.6" r="5.9"/></g>
<g fill="#03060d"><circle cx="443.2" cy="715.8" r="4.4"/><circle cx="474.9" cy="715.8" r="4.4"/></g>
<g fill="none" stroke="#03060d" stroke-width="2.4"><path d="M554.4,706 V696.5 Q554.4,694.9 556,694.9 H608.8 V706"/><path d="M608.3,694.9 Q611,693.2 614,693.4 L621,695.3 Q623,696 622.6,697.6"/><path d="M619.8,697.2 Q621.8,701 621.6,706"/><rect x="575.3" y="681.5" width="20" height="12.4" rx="2.6"/><path d="M581.6,681.5 V679 Q581.6,677.3 583.3,677.3 H587.5 Q589.2,677.3 589.2,679 V681.5"/></g>
<g fill="#03060d"><rect x="553.2" y="705.6" width="70.6" height="10.6" rx="1.6"/><circle cx="561" cy="716.6" r="3.6"/><circle cx="572" cy="716.6" r="3.6"/><circle cx="611.2" cy="716.6" r="3.6"/><circle cx="580.4" cy="687.4" r="1.3"/><circle cx="584.3" cy="685.8" r="1.1"/><circle cx="587.6" cy="689" r="1.4"/><circle cx="591" cy="684.8" r="1.3"/></g>
<mask id="pvm0" maskUnits="userSpaceOnUse" x="0" y="0" width="1500" height="800"><rect x="0" y="0" width="1500" height="800" fill="#fff"/><path d="M722.5,680.6 L776.8,681.6 L762.6,712.8 L707.2,712.4 Z" fill="#000" stroke="#000" stroke-width="3"/></mask><g mask="url(#pvm0)"><circle cx="722.2" cy="679.2" r="14.4" fill="#08405f"/><path d="M722.2,662 L722.2,657.4 M710.04,667.04 L706.79,663.79 M705,679.2 L700.4,679.2 M710.04,691.36 L706.79,694.61 M734.36,667.04 L737.61,663.79" stroke="#08405f" stroke-width="2.6" stroke-linecap="round"/></g><path d="M722.5,680.6 L776.8,681.6 L762.6,712.8 L707.2,712.4 Z" fill="none" stroke="#08405f" stroke-width="2.6" stroke-linejoin="round"/><path d="M707.2,716.6 L763.4,717 L778,685" fill="none" stroke="#08405f" stroke-width="2.2" stroke-linejoin="round"/><path d="M718.67,688.55 L773.25,689.4 M714.85,696.5 L769.7,697.2 M711.03,704.45 L766.15,705 M736.08,680.85 L721.05,712.5 M749.65,681.1 L734.9,712.6 M763.22,681.35 L748.75,712.7" stroke="#08405f" stroke-width="1.9" fill="none"/><g fill="#08405f"><rect x="738" y="716.5" width="6.3" height="8"/><path d="M731.5,724 H753.5 L756.5,732 H728.5 Z"/></g><mask id="pvm89" maskUnits="userSpaceOnUse" x="0" y="0" width="1500" height="800"><rect x="0" y="0" width="1500" height="800" fill="#fff"/><path d="M812.3,680.6 L866.6,681.6 L852.4,712.8 L797,712.4 Z" fill="#000" stroke="#000" stroke-width="3"/></mask><g mask="url(#pvm89)"><circle cx="812.0" cy="679.2" r="14.4" fill="#08405f"/><path d="M812,662 L812,657.4 M799.84,667.04 L796.59,663.79 M794.8,679.2 L790.2,679.2 M799.84,691.36 L796.59,694.61 M824.16,667.04 L827.41,663.79" stroke="#08405f" stroke-width="2.6" stroke-linecap="round"/></g><path d="M812.3,680.6 L866.6,681.6 L852.4,712.8 L797,712.4 Z" fill="none" stroke="#08405f" stroke-width="2.6" stroke-linejoin="round"/><path d="M797,716.6 L853.2,717 L867.8,685" fill="none" stroke="#08405f" stroke-width="2.2" stroke-linejoin="round"/><path d="M808.47,688.55 L863.05,689.4 M804.65,696.5 L859.5,697.2 M800.83,704.45 L855.95,705 M825.88,680.85 L810.85,712.5 M839.45,681.1 L824.7,712.6 M853.02,681.35 L838.55,712.7" stroke="#08405f" stroke-width="1.9" fill="none"/><g fill="#08405f"><rect x="827.8" y="716.5" width="6.3" height="8"/><path d="M821.3,724 H843.3 L846.3,732 H818.3 Z"/></g><mask id="pvm176" maskUnits="userSpaceOnUse" x="0" y="0" width="1500" height="800"><rect x="0" y="0" width="1500" height="800" fill="#fff"/><path d="M899,680.6 L953.3,681.6 L939.1,712.8 L883.7,712.4 Z" fill="#000" stroke="#000" stroke-width="3"/></mask><g mask="url(#pvm176)"><circle cx="898.7" cy="679.2" r="14.4" fill="#08405f"/><path d="M898.7,662 L898.7,657.4 M886.54,667.04 L883.29,663.79 M881.5,679.2 L876.9,679.2 M886.54,691.36 L883.29,694.61 M910.86,667.04 L914.11,663.79" stroke="#08405f" stroke-width="2.6" stroke-linecap="round"/></g><path d="M899,680.6 L953.3,681.6 L939.1,712.8 L883.7,712.4 Z" fill="none" stroke="#08405f" stroke-width="2.6" stroke-linejoin="round"/><path d="M883.7,716.6 L939.9,717 L954.5,685" fill="none" stroke="#08405f" stroke-width="2.2" stroke-linejoin="round"/><path d="M895.17,688.55 L949.75,689.4 M891.35,696.5 L946.2,697.2 M887.53,704.45 L942.65,705 M912.58,680.85 L897.55,712.5 M926.15,681.1 L911.4,712.6 M939.72,681.35 L925.25,712.7" stroke="#08405f" stroke-width="1.9" fill="none"/><g fill="#08405f"><rect x="914.5" y="716.5" width="6.3" height="8"/><path d="M908,724 H930 L933,732 H905 Z"/></g>
<rect x="770" y="435.5" width="106" height="67.5" fill="#d6d8d8"/>
<rect x="771.5" y="437" width="103" height="64.5" fill="#d3d5d4"/>
<rect x="771" y="467.3" width="104" height="2.2" fill="#6c6d6d"/>
<circle cx="785.5" cy="451.3" r="10.9" fill="#8a8b8b" stroke="#7a7b7b" stroke-width="1"/>
<circle cx="810.8" cy="451.3" r="10.9" fill="#8a8b8b" stroke="#7a7b7b" stroke-width="1"/>
<circle cx="836" cy="451.3" r="10.9" fill="#8a8b8b" stroke="#7a7b7b" stroke-width="1"/>
<circle cx="861.2" cy="451.3" r="10.9" fill="#8a8b8b" stroke="#7a7b7b" stroke-width="1"/>
<circle cx="785.5" cy="485.6" r="10.9" fill="#8a8b8b" stroke="#7a7b7b" stroke-width="1"/>
<circle cx="810.8" cy="485.6" r="10.9" fill="#8a8b8b" stroke="#7a7b7b" stroke-width="1"/>
<circle cx="836" cy="485.6" r="10.9" fill="#8a8b8b" stroke="#7a7b7b" stroke-width="1"/>
<circle cx="861.2" cy="485.6" r="10.9" fill="#8a8b8b" stroke="#7a7b7b" stroke-width="1"/>
<rect x="911" y="435.5" width="106" height="67.5" fill="#d6d8d8"/>
<rect x="912.5" y="437" width="103" height="64.5" fill="#d3d5d4"/>
<rect x="912" y="467.3" width="104" height="2.2" fill="#6c6d6d"/>
<circle cx="926.6" cy="451.3" r="10.9" fill="#8a8b8b" stroke="#7a7b7b" stroke-width="1"/>
<circle cx="951.6" cy="451.3" r="10.9" fill="#8a8b8b" stroke="#7a7b7b" stroke-width="1"/>
<circle cx="976.6" cy="451.3" r="10.9" fill="#8a8b8b" stroke="#7a7b7b" stroke-width="1"/>
<circle cx="1001.8" cy="451.3" r="10.9" fill="#8a8b8b" stroke="#7a7b7b" stroke-width="1"/>
<circle cx="926.6" cy="485.6" r="10.9" fill="#8a8b8b" stroke="#7a7b7b" stroke-width="1"/>
<circle cx="951.6" cy="485.6" r="10.9" fill="#8a8b8b" stroke="#7a7b7b" stroke-width="1"/>
<circle cx="976.6" cy="485.6" r="10.9" fill="#8a8b8b" stroke="#7a7b7b" stroke-width="1"/>
<circle cx="1001.8" cy="485.6" r="10.9" fill="#8a8b8b" stroke="#7a7b7b" stroke-width="1"/>
<path d="M453.8,203.3 L512.8,205.5 L512.8,409.5 L453.8,412 Z" fill="#b6bab5" stroke="#d8eef8" stroke-width="1.2"/>
<rect x="455" y="204.5" width="4.5" height="206.5" fill="#c1c5c0"/>
<rect x="507.5" y="206" width="5.3" height="203" fill="#a6aaa7"/>
<rect x="465.3" y="211.5" width="41.2" height="192.5" fill="none" stroke="#9ba09d" stroke-width="1.3"/>
<rect x="466" y="212.2" width="39.8" height="31" fill="#b9bdb8"/>
<rect x="465.3" y="242.6" width="41.2" height="2.2" fill="#c4c8c3" stroke="#989c99" stroke-width=".6"/>
<rect x="465.3" y="257" width="41.2" height="2.2" fill="#c4c8c3" stroke="#989c99" stroke-width=".6"/>
<rect x="465.3" y="287.2" width="41.2" height="2.2" fill="#c4c8c3" stroke="#989c99" stroke-width=".6"/>
<circle cx="489" cy="252.4" r="2.6" fill="#d8221d"/>
<rect x="477.6" y="267.2" width="17.7" height="13.8" rx="1.2" fill="#a9aeaa" stroke="#8f9391" stroke-width="1"/>
<path d="M476,297 L497,293.5 L497,319 L476,319 Z" fill="#c2c6c1" stroke="#919593" stroke-width=".8"/>
<path d="M481.5,303 L491.5,301" stroke="#6c706f" stroke-width="2.2" stroke-linecap="round"/>
<path d="M481.5,308.5 L491.5,306.5" stroke="#6c706f" stroke-width="2.2" stroke-linecap="round"/>
<path d="M481.5,314 L491.5,312" stroke="#6c706f" stroke-width="2.2" stroke-linecap="round"/>
<rect x="469.5" y="321" width="34.9" height="77" fill="#bec2bd" stroke="#969a98" stroke-width="1"/>
<g fill="#111111"><rect x="460.3" y="207.5" width="3.6" height="8" rx="1"/><rect x="460.3" y="272" width="3.6" height="8" rx="1"/><rect x="460.3" y="336" width="3.6" height="8" rx="1"/><rect x="460.3" y="397" width="3.6" height="9" rx="1"/></g>
<g fill="#929d9e"><rect x="509" y="226" width="3" height="7" rx="1.2"/><rect x="509" y="265" width="3" height="7" rx="1.2"/><rect x="509" y="309" width="3" height="7" rx="1.2"/><rect x="509" y="374" width="3" height="7" rx="1.2"/><rect x="509" y="396" width="3" height="7" rx="1.2"/></g>
<rect x="512.5" y="206.5" width="170" height="202.5" fill="#a8aca8"/>
<rect x="512" y="199.6" width="170.6" height="7.4" fill="#121314"/>
<rect x="512" y="408.5" width="170.6" height="8.2" fill="#161718"/>
<rect x="518" y="410.4" width="51.5" height="4.4" fill="#787b78"/>
<g fill="#b3b6b2"><circle cx="514.8" cy="412.6" r=".9"/><circle cx="607" cy="412.6" r=".9"/><circle cx="679" cy="412.6" r=".9"/></g>
<rect x="515.5" y="209.3" width="56.6" height="196.3" rx="5" fill="#aaaeaa" stroke="#8d928f" stroke-width="1"/>
<rect x="518.6" y="212" width="50.5" height="103.5" rx="2" fill="#4d4f50"/>
<rect x="524.2" y="215.8" width="41.8" height="12.6" fill="#6a6b6a"/>
<rect x="524.2" y="215.8" width="1.9" height="12.6" fill="#9b9f9b"/>
<rect x="564.2" y="215.8" width="1.8" height="12.6" fill="#a0adaf"/>
<circle cx="531.9" cy="222.2" r="3.9" fill="#4c4c4c" stroke="#3e3e3e" stroke-width=".8"/>
<circle cx="541.1" cy="222.2" r="3.9" fill="#4c4c4c" stroke="#3e3e3e" stroke-width=".8"/>
<circle cx="550.6" cy="222.2" r="3.9" fill="#4c4c4c" stroke="#3e3e3e" stroke-width=".8"/>
<circle cx="559.9" cy="222.2" r="3.9" fill="#4c4c4c" stroke="#3e3e3e" stroke-width=".8"/>
<rect x="524.2" y="230" width="41.8" height="12.6" fill="#6a6b6a"/>
<rect x="524.2" y="230" width="1.9" height="12.6" fill="#9b9f9b"/>
<rect x="564.2" y="230" width="1.8" height="12.6" fill="#a0adaf"/>
<circle cx="531.9" cy="236.4" r="3.9" fill="#4c4c4c" stroke="#3e3e3e" stroke-width=".8"/>
<circle cx="541.1" cy="236.4" r="3.9" fill="#4c4c4c" stroke="#3e3e3e" stroke-width=".8"/>
<circle cx="550.6" cy="236.4" r="3.9" fill="#4c4c4c" stroke="#3e3e3e" stroke-width=".8"/>
<circle cx="559.9" cy="236.4" r="3.9" fill="#4c4c4c" stroke="#3e3e3e" stroke-width=".8"/>
<rect x="524.2" y="244.2" width="41.8" height="12.6" fill="#6a6b6a"/>
<rect x="524.2" y="244.2" width="1.9" height="12.6" fill="#9b9f9b"/>
<rect x="564.2" y="244.2" width="1.8" height="12.6" fill="#a0adaf"/>
<circle cx="531.9" cy="250.6" r="3.9" fill="#4c4c4c" stroke="#3e3e3e" stroke-width=".8"/>
<circle cx="541.1" cy="250.6" r="3.9" fill="#4c4c4c" stroke="#3e3e3e" stroke-width=".8"/>
<circle cx="550.6" cy="250.6" r="3.9" fill="#4c4c4c" stroke="#3e3e3e" stroke-width=".8"/>
<circle cx="559.9" cy="250.6" r="3.9" fill="#4c4c4c" stroke="#3e3e3e" stroke-width=".8"/>
<rect x="524.2" y="258.4" width="41.8" height="12.6" fill="#6a6b6a"/>
<rect x="524.2" y="258.4" width="1.9" height="12.6" fill="#9b9f9b"/>
<rect x="564.2" y="258.4" width="1.8" height="12.6" fill="#a0adaf"/>
<circle cx="531.9" cy="264.8" r="3.9" fill="#4c4c4c" stroke="#3e3e3e" stroke-width=".8"/>
<circle cx="541.1" cy="264.8" r="3.9" fill="#4c4c4c" stroke="#3e3e3e" stroke-width=".8"/>
<circle cx="550.6" cy="264.8" r="3.9" fill="#4c4c4c" stroke="#3e3e3e" stroke-width=".8"/>
<circle cx="559.9" cy="264.8" r="3.9" fill="#4c4c4c" stroke="#3e3e3e" stroke-width=".8"/>
<rect x="524.2" y="272.6" width="41.8" height="12.6" fill="#6a6b6a"/>
<rect x="524.2" y="272.6" width="1.9" height="12.6" fill="#9b9f9b"/>
<rect x="564.2" y="272.6" width="1.8" height="12.6" fill="#a0adaf"/>
<circle cx="531.9" cy="279" r="3.9" fill="#4c4c4c" stroke="#3e3e3e" stroke-width=".8"/>
<circle cx="541.1" cy="279" r="3.9" fill="#4c4c4c" stroke="#3e3e3e" stroke-width=".8"/>
<circle cx="550.6" cy="279" r="3.9" fill="#4c4c4c" stroke="#3e3e3e" stroke-width=".8"/>
<circle cx="559.9" cy="279" r="3.9" fill="#4c4c4c" stroke="#3e3e3e" stroke-width=".8"/>
<rect x="524.2" y="286.8" width="41.8" height="12.6" fill="#6a6b6a"/>
<rect x="524.2" y="286.8" width="1.9" height="12.6" fill="#9b9f9b"/>
<rect x="564.2" y="286.8" width="1.8" height="12.6" fill="#a0adaf"/>
<circle cx="531.9" cy="293.2" r="3.9" fill="#4c4c4c" stroke="#3e3e3e" stroke-width=".8"/>
<circle cx="541.1" cy="293.2" r="3.9" fill="#4c4c4c" stroke="#3e3e3e" stroke-width=".8"/>
<circle cx="550.6" cy="293.2" r="3.9" fill="#4c4c4c" stroke="#3e3e3e" stroke-width=".8"/>
<circle cx="559.9" cy="293.2" r="3.9" fill="#4c4c4c" stroke="#3e3e3e" stroke-width=".8"/>
<rect x="524.2" y="301" width="41.8" height="12.2" fill="#444647" stroke="#a0adaf" stroke-width="1"/>
<rect x="527" y="304.5" width="36" height="5" fill="#5d5f60"/>
<rect x="520" y="257" width="2" height="3.5" fill="#22c04a"/>
<rect x="517.5" y="315.5" width="53.5" height="66" fill="#adb1ab"/>
<g fill="#0d0d0d"><rect x="535.6" y="333.3" width="4.4" height="4.8"/><rect x="548.1" y="333.3" width="4.4" height="4.8"/><rect x="560.8" y="333.3" width="4.4" height="4.8"/><rect x="520.8" y="372.2" width="4.7" height="5"/><rect x="530.6" y="372.2" width="4.7" height="5"/><rect x="540.7" y="372.2" width="4.7" height="5"/><rect x="550.4" y="372.2" width="4.7" height="5"/><rect x="560.7" y="372.2" width="4.7" height="5"/></g>
<rect x="525.6" y="353" width="21.2" height="5" fill="#d6231e"/><rect x="546.8" y="353" width="11.4" height="5" fill="#b1b3ae"/><rect x="554.8" y="353.6" width="3" height="3.8" fill="#d9a070"/>
<rect x="517.4" y="381.8" width="52.8" height="18.8" fill="#3f4141"/>
<g fill="#9b8f4a"><rect x="531" y="384.5" width="1.6" height="7"/><rect x="536" y="384.5" width="1.6" height="7"/><rect x="541" y="384.5" width="1.6" height="7"/><rect x="546" y="384.5" width="1.6" height="7"/><rect x="551" y="384.5" width="1.6" height="7"/><rect x="556" y="384.5" width="1.6" height="7"/><rect x="561" y="384.5" width="1.6" height="7"/><rect x="566" y="384.5" width="1.6" height="7"/></g>
<rect x="517.4" y="400.6" width="52.8" height="4.4" fill="#b9b8a8"/><g fill="#c6302a"><rect x="524" y="400.4" width="2.2" height="3"/><rect x="533.4" y="400.4" width="2.2" height="3"/></g><rect x="520" y="399.4" width="24" height="1.2" fill="#a9925a"/>
<rect x="574.5" y="209.5" width="105.7" height="196" rx="5" fill="#abafaa" stroke="#8d928f" stroke-width="1"/>
<rect x="577.5" y="212" width="100" height="20" fill="#9b9f9b"/>
<rect x="603.8" y="216.8" width="18.8" height="12" fill="#0c0c0c"/><rect x="630" y="216.8" width="19.5" height="12" fill="#0c0c0c"/>
<ellipse cx="589" cy="215.5" rx="4" ry="2.2" fill="#c9ccc6"/><rect x="666" y="213.5" width="4" height="1.6" fill="#3ea0d0"/>
<rect x="576.6" y="231" width="100.4" height="170" fill="#5d5f60"/>
<rect x="579.2" y="232" width="44.8" height="23" fill="#a8aca6"/>
<rect x="579.2" y="232" width="44.8" height="2.2" fill="#b5b9b3"/>
<circle cx="601.5" cy="246.6" r="3.7" fill="#bec0bb" stroke="#2c2d2e" stroke-width="2.1" stroke-dasharray="1.6 .7"/>
<rect x="628.6" y="232" width="45.6" height="23" fill="#a8aca6"/>
<rect x="628.6" y="232" width="45.6" height="2.2" fill="#b5b9b3"/>
<circle cx="651.2" cy="246.6" r="3.7" fill="#bec0bb" stroke="#2c2d2e" stroke-width="2.1" stroke-dasharray="1.6 .7"/>
<rect x="575.5" y="241.5" width="2.5" height="4" fill="#3a3b3c"/><rect x="624.4" y="241.5" width="3.8" height="4" fill="#4a4b4c"/><rect x="673.5" y="241.5" width="2.5" height="4" fill="#3a3b3c"/>
<rect x="579.2" y="257.15" width="44.8" height="23" fill="#a8aca6"/>
<rect x="579.2" y="257.15" width="44.8" height="2.2" fill="#b5b9b3"/>
<circle cx="601.5" cy="271.75" r="3.7" fill="#bec0bb" stroke="#2c2d2e" stroke-width="2.1" stroke-dasharray="1.6 .7"/>
<rect x="628.6" y="257.15" width="45.6" height="23" fill="#a8aca6"/>
<rect x="628.6" y="257.15" width="45.6" height="2.2" fill="#b5b9b3"/>
<circle cx="651.2" cy="271.75" r="3.7" fill="#bec0bb" stroke="#2c2d2e" stroke-width="2.1" stroke-dasharray="1.6 .7"/>
<rect x="575.5" y="266.65" width="2.5" height="4" fill="#3a3b3c"/><rect x="624.4" y="266.65" width="3.8" height="4" fill="#4a4b4c"/><rect x="673.5" y="266.65" width="2.5" height="4" fill="#3a3b3c"/>
<rect x="579.2" y="282.3" width="44.8" height="23" fill="#a8aca6"/>
<rect x="579.2" y="282.3" width="44.8" height="2.2" fill="#b5b9b3"/>
<circle cx="601.5" cy="296.9" r="3.7" fill="#bec0bb" stroke="#2c2d2e" stroke-width="2.1" stroke-dasharray="1.6 .7"/>
<rect x="628.6" y="282.3" width="45.6" height="23" fill="#a8aca6"/>
<rect x="628.6" y="282.3" width="45.6" height="2.2" fill="#b5b9b3"/>
<circle cx="651.2" cy="296.9" r="3.7" fill="#bec0bb" stroke="#2c2d2e" stroke-width="2.1" stroke-dasharray="1.6 .7"/>
<rect x="575.5" y="291.8" width="2.5" height="4" fill="#3a3b3c"/><rect x="624.4" y="291.8" width="3.8" height="4" fill="#4a4b4c"/><rect x="673.5" y="291.8" width="2.5" height="4" fill="#3a3b3c"/>
<rect x="579.2" y="307.45" width="44.8" height="23" fill="#a8aca6"/>
<rect x="579.2" y="307.45" width="44.8" height="2.2" fill="#b5b9b3"/>
<circle cx="601.5" cy="322.05" r="3.7" fill="#bec0bb" stroke="#2c2d2e" stroke-width="2.1" stroke-dasharray="1.6 .7"/>
<rect x="628.6" y="307.45" width="45.6" height="23" fill="#a8aca6"/>
<rect x="628.6" y="307.45" width="45.6" height="2.2" fill="#b5b9b3"/>
<circle cx="651.2" cy="322.05" r="3.7" fill="#bec0bb" stroke="#2c2d2e" stroke-width="2.1" stroke-dasharray="1.6 .7"/>
<rect x="575.5" y="316.95" width="2.5" height="4" fill="#3a3b3c"/><rect x="624.4" y="316.95" width="3.8" height="4" fill="#4a4b4c"/><rect x="673.5" y="316.95" width="2.5" height="4" fill="#3a3b3c"/>
<rect x="579.2" y="332.6" width="44.8" height="23" fill="#a8aca6"/>
<rect x="579.2" y="332.6" width="44.8" height="2.2" fill="#b5b9b3"/>
<circle cx="601.5" cy="347.2" r="3.7" fill="#bec0bb" stroke="#2c2d2e" stroke-width="2.1" stroke-dasharray="1.6 .7"/>
<rect x="628.6" y="332.6" width="45.6" height="23" fill="#a8aca6"/>
<rect x="628.6" y="332.6" width="45.6" height="2.2" fill="#b5b9b3"/>
<circle cx="651.2" cy="347.2" r="3.7" fill="#bec0bb" stroke="#2c2d2e" stroke-width="2.1" stroke-dasharray="1.6 .7"/>
<rect x="575.5" y="342.1" width="2.5" height="4" fill="#3a3b3c"/><rect x="624.4" y="342.1" width="3.8" height="4" fill="#4a4b4c"/><rect x="673.5" y="342.1" width="2.5" height="4" fill="#3a3b3c"/>
<rect x="579.2" y="357.75" width="44.8" height="23" fill="#a8aca6"/>
<rect x="579.2" y="357.75" width="44.8" height="2.2" fill="#b5b9b3"/>
<circle cx="601.5" cy="372.35" r="3.7" fill="#bec0bb" stroke="#2c2d2e" stroke-width="2.1" stroke-dasharray="1.6 .7"/>
<rect x="628.6" y="357.75" width="45.6" height="23" fill="#a8aca6"/>
<rect x="628.6" y="357.75" width="45.6" height="2.2" fill="#b5b9b3"/>
<circle cx="651.2" cy="372.35" r="3.7" fill="#bec0bb" stroke="#2c2d2e" stroke-width="2.1" stroke-dasharray="1.6 .7"/>
<rect x="575.5" y="367.25" width="2.5" height="4" fill="#3a3b3c"/><rect x="624.4" y="367.25" width="3.8" height="4" fill="#4a4b4c"/><rect x="673.5" y="367.25" width="2.5" height="4" fill="#3a3b3c"/>
<rect x="579.2" y="383" width="44.8" height="18" fill="#adb1ac"/><rect x="628.6" y="383" width="45.6" height="18" fill="#b3b6b1"/>
<g><circle cx="589.5" cy="388.5" r="1.9" fill="#e07a30"/><rect x="586.2" y="391" width="4.5" height="3.2" fill="#111111"/><rect x="591.3" y="389" width="3" height="7" fill="#7cae4c"/><circle cx="604.5" cy="390" r="2.8" fill="#111111"/><rect x="603.4" y="391.5" width="2.2" height="7" fill="#111111"/><rect x="614.5" y="388" width="3" height="3" fill="#111111"/><rect x="616.5" y="392" width="3.6" height="3.5" fill="#e07a30"/></g>
<path d="M682.5,206.7 L792.2,202.8 L792.6,411.7 L683,407.8 Z" fill="#b9bdb9" stroke="#8c918f" stroke-width="1"/>
<path d="M682.8,207 L689,206.8 L689,408 L683,407.8 Z" fill="#a7aca9"/>
<path d="M779.5,203.5 L792.2,203 L792.5,411.5 L779.5,411 Z" fill="#b1b6b1"/>
<rect x="691.5" y="211" width="86" height="193" fill="none" stroke="#a8adaa" stroke-width="1"/>
<g fill="#111111"><rect x="783" y="208" width="3.6" height="8" rx="1.2"/><rect x="783" y="272" width="3.6" height="6.5" rx="1.2"/><rect x="783" y="301" width="3.6" height="15" rx="1.2"/><rect x="783" y="337.5" width="3.6" height="6.5" rx="1.2"/><rect x="783" y="398" width="3.6" height="10" rx="1.2"/></g>
<g fill="#939c9d"><rect x="683.3" y="217" width="3" height="7.5" rx="1.2"/><rect x="683.3" y="258" width="3" height="7.5" rx="1.2"/><rect x="683.3" y="323" width="3" height="7.5" rx="1.2"/><rect x="683.3" y="388" width="3" height="7.5" rx="1.2"/></g>
<rect x="707.8" y="228.6" width="51.6" height="114" fill="#bec3be" stroke="#929794" stroke-width="1"/>
<rect x="707.8" y="208.3" width="51.6" height="20.3" fill="#c4c8c3" stroke="#8d9390" stroke-width="1"/>
<rect x="712.5" y="216.9" width="44.5" height="6.4" fill="#4b4e50"/>
<rect x="759.4" y="211" width="5" height="14" fill="#b8bdb8" stroke="#929794" stroke-width=".8"/>
<rect x="744.5" y="238.3" width="7.2" height="7" fill="#2f82ad"/>
<rect x="708.5" y="246.6" width="50.2" height="11.7" fill="#c7cbc6" stroke="#9ca19e" stroke-width=".8"/>
<rect x="718" y="264.5" width="37.5" height="36.8" fill="#989c99"/>
<rect x="694.5" y="278.6" width="10.2" height="26.6" fill="#d42b20" stroke="#7b7f7d" stroke-width="1.2"/>
<rect x="692.2" y="387.5" width="32.8" height="10.9" fill="#a8ada9" stroke="#878c8a" stroke-width=".8"/>
<rect x="697" y="391.2" width="23" height="3" rx="1.3" fill="#c6cbc6" stroke="#7a7f7d" stroke-width=".5"/>
<path d="M770,404 H776 V405.6 H774 V409 H772 V405.6 H770 Z" fill="#111111"/>
</svg>
<div class="t" style="left:370.4px;top:98.26px;font-size:22.61px;line-height:22.61px;transform:scaleX(0.898)">Web</div><div class="t" style="left:357.65px;top:207.96px;font-size:22.61px;line-height:22.61px;transform:scaleX(0.9662)">Mobile</div><div class="t" style="left:591.92px;top:134.96px;font-size:20.72px;line-height:20.72px;transform:scaleX(0.9552)">EMS energy</div><div class="t" style="left:549.02px;top:156.16px;font-size:20.72px;line-height:20.72px;transform:scaleX(1.023)">management system</div><div class="t" style="left:1021.91px;top:318.62px;font-size:21.59px;line-height:21.59px;transform:scaleX(0.9789)">Meter</div><div class="t" style="left:1126.37px;top:319.8px;font-size:21.74px;line-height:21.74px;transform:scaleX(0.9868)">Transformer</div><div class="t" style="left:1333.93px;top:317.7px;font-size:22.68px;line-height:22.68px;transform:scaleX(0.9466)">Grid</div><div class="t" style="left:223.85px;top:510.81px;font-size:21.01px;line-height:21.01px;transform:scaleX(0.9811)">Energy</div><div class="t" style="left:183.04px;top:532.71px;font-size:21.01px;line-height:21.01px;transform:scaleX(1.0063)">Storage Battery</div><div class="t" style="left:382.43px;top:511.1px;font-size:21.74px;line-height:21.74px;transform:scaleX(0.9807)">Charging</div><div class="t" style="left:357.81px;top:534.21px;font-size:21.01px;line-height:21.01px;transform:scaleX(1.0056)">Power Module</div><div class="t" style="left:539.93px;top:511.71px;font-size:21.01px;line-height:21.01px;transform:scaleX(1.0223)">Outdoor Cabinet</div><div class="t" style="left:510.25px;top:534.87px;font-size:20.0px;line-height:20.0px;transform:scaleX(1.0302)">Energy Storage System</div><div class="t" style="left:787.75px;top:513.88px;font-size:19.28px;line-height:19.28px;transform:scaleX(1.0036)">DC/DC</div><div class="t" style="left:751.82px;top:535.12px;font-size:20.29px;line-height:20.29px;transform:scaleX(1.036)">Power Module</div><div class="t" style="left:941.74px;top:513.88px;font-size:19.28px;line-height:19.28px;transform:scaleX(1.0121)">DC/DC</div><div class="t" style="left:906.01px;top:535.12px;font-size:20.29px;line-height:20.29px;transform:scaleX(1.0384)">Power Module</div><div class="t" style="left:272.34px;top:730.69px;font-size:21.16px;line-height:21.16px;transform:scaleX(0.9806)">Electric Car</div><div class="t" style="left:394.69px;top:729.32px;font-size:21.59px;line-height:21.59px;transform:scaleX(0.9903)">Electric Truck</div><div class="t" style="left:532.32px;top:731.49px;font-size:21.16px;line-height:21.16px;transform:scaleX(0.9919)">Electric Bus</div><div class="t" style="left:761.83px;top:746.13px;font-size:22.17px;line-height:22.17px;transform:scaleX(0.9957)">Photovoltaic</div><div class="bus">400V AC BUS</div>
</body></html>
